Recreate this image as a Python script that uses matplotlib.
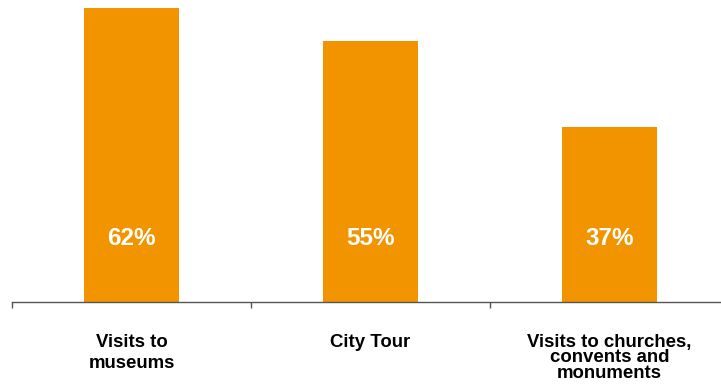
import matplotlib
matplotlib.use("Agg")
import matplotlib.pyplot as plt

plt.rcParams['font.family'] = ['Liberation Sans', 'DejaVu Sans']

# data
categories = ["Visits to\nmuseums", "City Tour", "Visits to churches,\nconvents and\nmonuments"]
values = [62, 55, 37]
value_labels = ["62%", "55%", "37%"]
line_gaps = [1.3, 1.0, 0.88]

fig = plt.figure(figsize=(7.21, 3.87), dpi=100)
W, H = 721, 387
# axes: left 12px, baseline at 302px, one category = 239px
ax = fig.add_axes([12 / W, (H - 302) / H, 717 / W, 302 / H])

bar_color = "#F29400"
x = list(range(len(values)))
ax.bar(x, values, width=0.4, color=bar_color, zorder=2)

ax.set_xlim(-0.5, 2.5)
ax.set_ylim(0, 302 / (294 / 62))

for s in ["top", "right", "left"]:
    ax.spines[s].set_visible(False)
ax.spines["bottom"].set_color("#555555")
ax.spines["bottom"].set_linewidth(1.0)
ax.set_yticks([])
ax.set_xticks([-0.5, 0.5, 1.5, 2.5])
ax.set_xticklabels([])
ax.tick_params(axis="x", direction="out", length=4.5, width=1.0, color="#555555")

# value labels inside the bars
for xi, lab in zip(x, value_labels):
    ax.text(xi, 13.3, lab, ha="center", va="center", color="white",
            fontsize=17.5, fontweight="bold", zorder=3)

# category labels under the axis
for xi, cat, gap in zip(x, categories, line_gaps):
    ax.annotate(cat, xy=(xi, 0), xytext=(0, -32), textcoords="offset pixels",
                ha="center", va="top", multialignment="center",
                fontsize=13.4, fontweight="bold", color="black",
                linespacing=gap, annotation_clip=False)

fig.savefig("out.png", dpi=100)
